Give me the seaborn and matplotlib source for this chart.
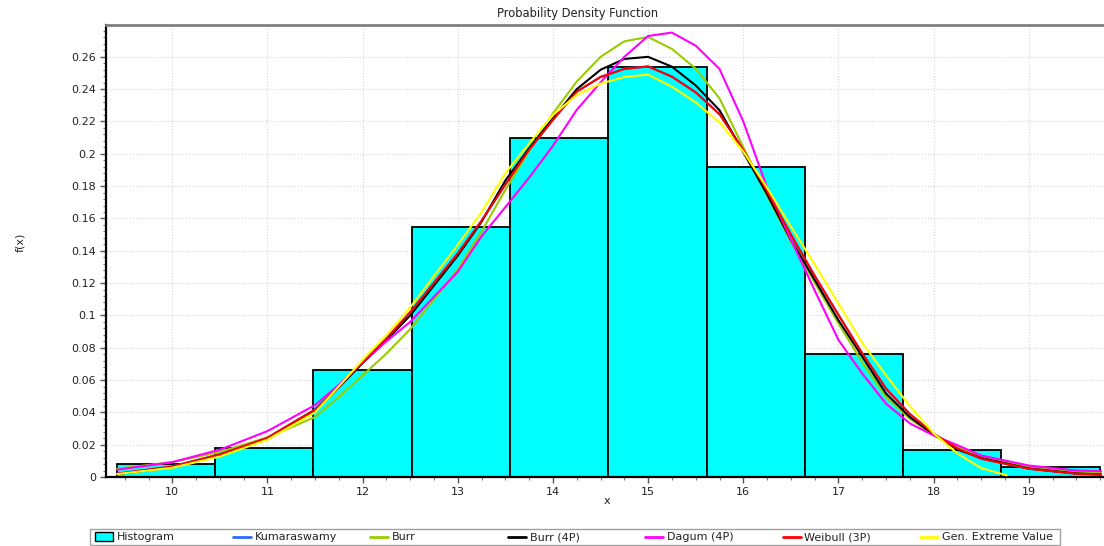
import matplotlib
matplotlib.use("Agg")
import matplotlib.pyplot as plt
from matplotlib.lines import Line2D
from matplotlib.patches import Rectangle
from matplotlib.ticker import MultipleLocator, FuncFormatter
import seaborn as sns

# Histogram: bin edges and density heights
bin_edges = [9.416, 10.449, 11.482, 12.515, 13.548, 14.581, 15.614, 16.647, 17.680, 18.713, 19.746]
bin_density = [0.0078, 0.0178, 0.0663, 0.1544, 0.2100, 0.2538, 0.1918, 0.0763, 0.0167, 0.0064]

# Fitted density curves, sampled along x
x_fit = [9.42, 10.0, 10.5, 11.0, 11.5, 11.75, 12.0, 12.25, 12.5, 13.0, 13.25, 13.5, 13.75,
         14.0, 14.25, 14.5, 14.75, 15.0, 15.25, 15.5, 15.75, 16.0, 16.25, 16.5, 16.75,
         17.0, 17.25, 17.5, 17.75, 18.0, 18.25, 18.5, 19.0, 19.5, 19.76]
kumaraswamy = [0.0021, 0.0066, 0.0141, 0.0244, 0.0418, 0.0561, 0.0712, 0.0858, 0.1020, 0.1383,
               0.1586, 0.1811, 0.2025, 0.2211, 0.2384, 0.2476, 0.2526, 0.2540, 0.2478, 0.2381,
               0.2246, 0.2025, 0.1768, 0.1501, 0.1245, 0.1003, 0.0765, 0.0547, 0.0390, 0.0268,
               0.0177, 0.0113, 0.0051, 0.0020, 0.0015]
burr = [0.0051, 0.0092, 0.0155, 0.0245, 0.0371, 0.0495, 0.0629, 0.0764, 0.0915, 0.1285,
        0.1520, 0.1777, 0.2020, 0.2250, 0.2447, 0.2600, 0.2696, 0.2723, 0.2649, 0.2527,
        0.2343, 0.2040, 0.1740, 0.1456, 0.1202, 0.0950, 0.0710, 0.0495, 0.0360, 0.0260,
        0.0187, 0.0121, 0.0061, 0.0030, 0.0025]
burr_4p = [0.0018, 0.0060, 0.0135, 0.0238, 0.0412, 0.0555, 0.0705, 0.0846, 0.1000, 0.1370,
           0.1580, 0.1835, 0.2035, 0.2220, 0.2400, 0.2520, 0.2587, 0.2600, 0.2539, 0.2423,
           0.2270, 0.2010, 0.1750, 0.1467, 0.1220, 0.0970, 0.0745, 0.0516, 0.0371, 0.0262,
           0.0170, 0.0118, 0.0053, 0.0022, 0.0016]
dagum_4p = [0.0045, 0.0092, 0.0169, 0.0284, 0.0445, 0.0570, 0.0710, 0.0840, 0.0960, 0.1270,
            0.1490, 0.1670, 0.1853, 0.2050, 0.2272, 0.2442, 0.2600, 0.2729, 0.2750, 0.2669,
            0.2525, 0.2200, 0.1790, 0.1470, 0.1155, 0.0848, 0.0640, 0.0454, 0.0332, 0.0257,
            0.0197, 0.0133, 0.0071, 0.0040, 0.0036]
weibull_3p = [0.0020, 0.0065, 0.0140, 0.0243, 0.0417, 0.0560, 0.0712, 0.0857, 0.1020, 0.1384,
              0.1586, 0.1810, 0.2025, 0.2210, 0.2385, 0.2475, 0.2525, 0.2541, 0.2477, 0.2380,
              0.2245, 0.2025, 0.1768, 0.1500, 0.1245, 0.1003, 0.0765, 0.0547, 0.0390, 0.0268,
              0.0177, 0.0113, 0.0051, 0.0020, 0.0015]
x_gev = [9.42, 10.0, 10.5, 11.0, 11.5, 11.75, 12.0, 12.25, 12.5, 13.0, 13.25, 13.5, 13.75,
         14.0, 14.25, 14.5, 14.75, 15.0, 15.25, 15.5, 15.75, 16.0, 16.25, 16.5, 16.75,
         17.0, 17.25, 17.5, 17.75, 18.0, 18.25, 18.5, 18.77]
gen_extreme_value = [0.0018, 0.0057, 0.0127, 0.0231, 0.0400, 0.0561, 0.0725, 0.0878, 0.1050, 0.1437,
                     0.1640, 0.1880, 0.2065, 0.2240, 0.2365, 0.2434, 0.2475, 0.2490, 0.2415, 0.2318,
                     0.2194, 0.2014, 0.1790, 0.1550, 0.1316, 0.1074, 0.0830, 0.0629, 0.0440, 0.0270,
                     0.0145, 0.0055, 0.0010]

legend_labels = ["Histogram", "Kumaraswamy", "Burr", "Burr (4P)", "Dagum (4P)", "Weibull (3P)", "Gen. Extreme Value"]
curve_colors = ["#3366FF", "#99CC00", "#000000", "#FF00FF", "#FF0000", "#FFFF00"]
hist_color = "#00FFFF"

sns.set_theme(style="white")
plt.rcParams["font.family"] = ["DejaVu Sans"]

W, H = 1104, 546
fig = plt.figure(figsize=(W / 100, H / 100), dpi=100)
ax = fig.add_axes([106 / W, 1 - 477 / H, 997 / W, 452 / H])

centers = [(a + b) / 2 for a, b in zip(bin_edges[:-1], bin_edges[1:])]
sns.histplot(x=centers, weights=bin_density, bins=bin_edges, stat="count",
             color=hist_color, alpha=1, edgecolor="black", linewidth=1.3, ax=ax, zorder=2)

series = [(x_fit, kumaraswamy), (x_fit, burr), (x_fit, burr_4p), (x_fit, dagum_4p),
          (x_fit, weibull_3p), (x_gev, gen_extreme_value)]
for (xs, ys), col in zip(series, curve_colors):
    sns.lineplot(x=xs, y=ys, color=col, linewidth=1.5, ax=ax, sort=False,
                 estimator=None, zorder=3)

ax.set_xlim(9.303, 19.78)
ax.set_ylim(0, 0.2797)
ax.set_xlabel("")
ax.set_ylabel("")

ax.xaxis.set_major_locator(MultipleLocator(1))
ax.xaxis.set_minor_locator(MultipleLocator(0.25))
ax.yaxis.set_major_locator(MultipleLocator(0.02))
ax.yaxis.set_minor_locator(MultipleLocator(0.004))
ax.yaxis.set_major_formatter(FuncFormatter(lambda v, p: f"{v:.2f}".rstrip("0").rstrip(".") if v else "0"))
ax.xaxis.set_major_formatter(FuncFormatter(lambda v, p: f"{v:g}"))
ax.tick_params(which="major", direction="out", length=4, width=1, color="#555555",
               labelsize=8, labelcolor="#222222", pad=3)
ax.tick_params(which="minor", direction="out", length=2, width=0.8, color="#777777")
ax.tick_params(axis="x", which="both", bottom=True)
ax.tick_params(axis="y", which="both", left=True)

ax.set_axisbelow(True)
ax.grid(True, which="major", linestyle=":", color="#d5d5d5", linewidth=0.8)

for side in ("left", "bottom"):
    ax.spines[side].set_color("black")
    ax.spines[side].set_linewidth(1.6)
ax.spines["top"].set_color("#808080")
ax.spines["top"].set_linewidth(2)
ax.spines["right"].set_visible(False)

fig.text(578 / W, 1 - 13 / H, "Probability Density Function", ha="center", va="center",
         fontsize=8.3, color="#222222")
fig.text(607 / W, 1 - 501 / H, "x", ha="center", va="center", fontsize=8, color="#222222")
fig.text(20 / W, 1 - 242 / H, "f(x)", ha="center", va="center", rotation=90,
         fontsize=8, color="#222222")

# Legend strip along the bottom: seven equal-width columns
col_w = 137.5
handle_x = [95 + i * col_w for i in range(7)]
fig.add_artist(Rectangle((90 / W, 1 - 545 / H), 970 / W, 16 / H, transform=fig.transFigure,
                         facecolor="white", edgecolor="#a0a0a0", linewidth=1))
ly = 1 - 537 / H
fig.add_artist(Rectangle((handle_x[0] / W, 1 - 541 / H), 18 / W, 9 / H, transform=fig.transFigure,
                         facecolor=hist_color, edgecolor="black", linewidth=1))
for hx, col in zip(handle_x[1:], curve_colors):
    fig.add_artist(Line2D([hx / W, (hx + 18) / W], [ly, ly], transform=fig.transFigure,
                          color=col, linewidth=2))
for hx, lab in zip(handle_x, legend_labels):
    fig.text((hx + 22) / W, ly, lab, ha="left", va="center", fontsize=8, color="#222222")

fig.savefig("out.png", dpi=100)
